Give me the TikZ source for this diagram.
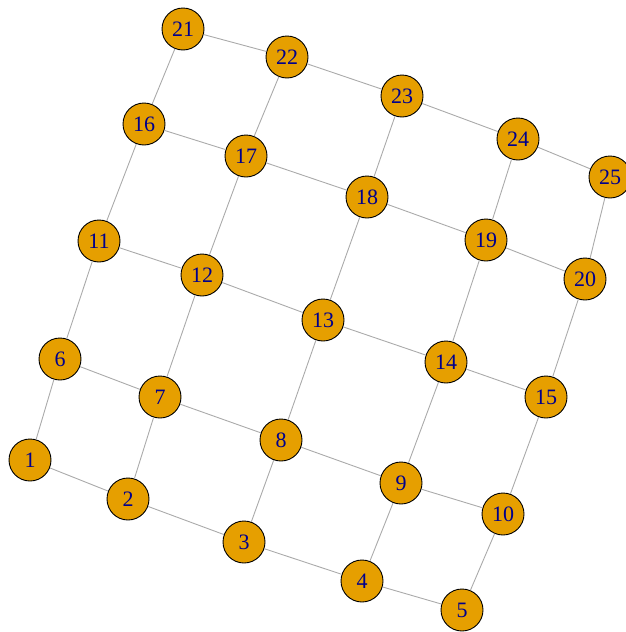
\documentclass[tikz,border=0pt]{standalone}
\usepackage{fontspec}
\setmainfont{Liberation Serif}
\usepackage{xcolor}
\usepackage{tikz}
\definecolor{vfill}{HTML}{E69F00}
\definecolor{vlabel}{HTML}{00008B}
\definecolor{egray}{HTML}{AAAAAA}
\tikzset{
  vertex/.style={
    circle,
    draw=black,
    line width=0.9pt,
    fill=vfill,
    text=vlabel,
    minimum size=42pt,
    inner sep=0pt,
    font=\fontsize{22}{22}\selectfont,
  },
  edge/.style={
    draw=egray,
    line width=0.9pt
  }
}
\begin{document}
\begin{tikzpicture}[x=1pt, y=-1pt]
  \useasboundingbox (0,0) rectangle (626,632);

  % Vertices (lattice layout, rows from bottom)
  \node [vertex] (v1)  at (30,460)  {1};
  \node [vertex] (v2)  at (128,499) {2};
  \node [vertex] (v3)  at (244,542) {3};
  \node [vertex] (v4)  at (362,581) {4};
  \node [vertex] (v5)  at (462,610) {5};

  \node [vertex] (v6)  at (60,359)  {6};
  \node [vertex] (v7)  at (160,397) {7};
  \node [vertex] (v8)  at (281,440) {8};
  \node [vertex] (v9)  at (401,483) {9};
  \node [vertex] (v10) at (503,514) {10};

  \node [vertex] (v11) at (99,241)  {11};
  \node [vertex] (v12) at (202,275) {12};
  \node [vertex] (v13) at (323,320) {13};
  \node [vertex] (v14) at (446,362) {14};
  \node [vertex] (v15) at (546,397) {15};

  \node [vertex] (v16) at (144,124) {16};
  \node [vertex] (v17) at (246,156) {17};
  \node [vertex] (v18) at (367,197) {18};
  \node [vertex] (v19) at (486,240) {19};
  \node [vertex] (v20) at (585,279) {20};

  \node [vertex] (v21) at (183,29)  {21};
  \node [vertex] (v22) at (287,57)  {22};
  \node [vertex] (v23) at (402,96)  {23};
  \node [vertex] (v24) at (518,139) {24};
  \node [vertex] (v25) at (610,177) {25};

  % Edges: along each row, then up each column
  \foreach \r in {0,...,4} {
    \foreach \c in {1,...,4} {
      \pgfmathtruncatemacro{\a}{5*\r+\c}
      \pgfmathtruncatemacro{\b}{\a+1}
      \draw [edge] (v\a) -- (v\b);
    }
  }
  \foreach \a in {1,...,20} {
    \pgfmathtruncatemacro{\b}{\a+5}
    \draw [edge] (v\a) -- (v\b);
  }
\end{tikzpicture}
\end{document}
